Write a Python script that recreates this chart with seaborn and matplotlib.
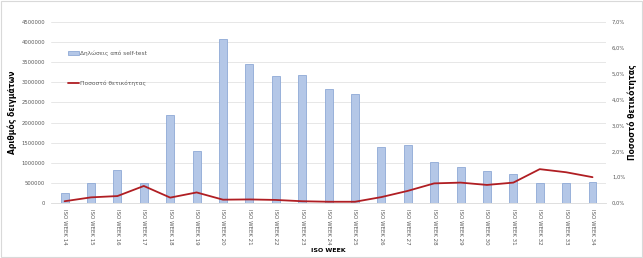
import matplotlib
matplotlib.use("Agg")
import matplotlib.pyplot as plt
import seaborn as sns
import numpy as np
import pandas as pd
from matplotlib.ticker import FuncFormatter, MultipleLocator
from matplotlib.patches import Rectangle

weeks = [f"ISO WEEK {w}" for w in range(14, 35)]
samples = [240000, 500000, 830000, 490000, 2190000, 1300000, 4070000, 3460000,
           3160000, 3190000, 2840000, 2720000, 1400000, 1430000, 1020000, 900000,
           790000, 710000, 500000, 500000, 520000]
positivity = [0.07, 0.22, 0.27, 0.66, 0.21, 0.41, 0.13, 0.14, 0.12, 0.07, 0.05,
              0.05, 0.23, 0.47, 0.76, 0.79, 0.70, 0.79, 1.31, 1.19, 1.00]

bar_label = "Δηλώσεις από self-test"
line_label = "Ποσοστό θετικότητας"

sns.set_theme(style="white")
plt.rcParams['font.family'] = ['DejaVu Sans']

df = pd.DataFrame({"week": weeks, "samples": samples, "pos": positivity,
                   "idx": np.arange(len(weeks))})

fig = plt.figure(figsize=(6.43, 2.58), dpi=100)
ax = fig.add_axes([0.080, 0.213, 0.862, 0.702])

sns.barplot(data=df, x="week", y="samples", ax=ax, color="#B4C7E7",
            edgecolor="#8EA9D6", linewidth=0.6, width=0.3, saturation=1,
            label=bar_label)
ax.set_xlim(-0.5, len(weeks) - 0.5)
ax.set_ylim(0, 4500000)
ax.yaxis.set_major_locator(MultipleLocator(500000))
ax.yaxis.set_major_formatter(FuncFormatter(lambda v, p: f"{int(v)}"))
ax.grid(axis="y", color="#E3E3E3", linewidth=0.6)
ax.set_axisbelow(True)
for s in ["top", "right", "left"]:
    ax.spines[s].set_visible(False)
ax.spines["bottom"].set_color("#D9D9D9")
ax.spines["bottom"].set_linewidth(0.6)
ax.tick_params(axis="x", labelsize=4.0, labelcolor="#595959", rotation=270,
               length=0, pad=4)
ax.tick_params(axis="y", labelsize=3.8, labelcolor="#595959", length=0, pad=4.5)
ax.set_ylabel("Αριθμός δειγμάτων", fontsize=5.5, fontweight="bold",
              color="#000000", labelpad=3)
ax.set_xlabel("ISO WEEK", fontsize=4.5, fontweight="bold", color="#000000",
              labelpad=3)

ax2 = ax.twinx()
sns.lineplot(data=df, x="idx", y="pos", ax=ax2, color="#B01E23",
             linewidth=1.3, label=line_label)
ax2.set_ylim(0, 7)
ax2.yaxis.set_major_locator(MultipleLocator(1))
ax2.yaxis.set_major_formatter(FuncFormatter(lambda v, p: f"{v:.1f}%".replace(".", ",")))
ax2.grid(False)
for s in ["top", "right", "left", "bottom"]:
    ax2.spines[s].set_visible(False)
ax2.tick_params(axis="y", labelsize=3.8, labelcolor="#595959", length=0, pad=4.5)
ax2.set_ylabel("Ποσοστό θετικότητας", fontsize=5.5, fontweight="bold",
               color="#000000", labelpad=2)
ax2.set_xlabel("")
ax2.set_xlim(-0.5, len(weeks) - 0.5)

h1, l1 = ax.get_legend_handles_labels()
h2, l2 = ax2.get_legend_handles_labels()
if ax.get_legend():
    ax.get_legend().remove()
ax2.legend(h1 + h2, l1 + l2, loc="upper left", bbox_to_anchor=(0.02, 0.87),
           frameon=False, fontsize=4.2, labelcolor="#595959",
           handlelength=2.0, handleheight=0.5, handletextpad=0.1,
           labelspacing=4.2)

fig.patches.append(Rectangle((0.002, 0.004), 0.996, 0.992, transform=fig.transFigure,
                             fill=False, edgecolor="#D9D9D9", linewidth=0.8))

fig.savefig("out.png", dpi=100)
